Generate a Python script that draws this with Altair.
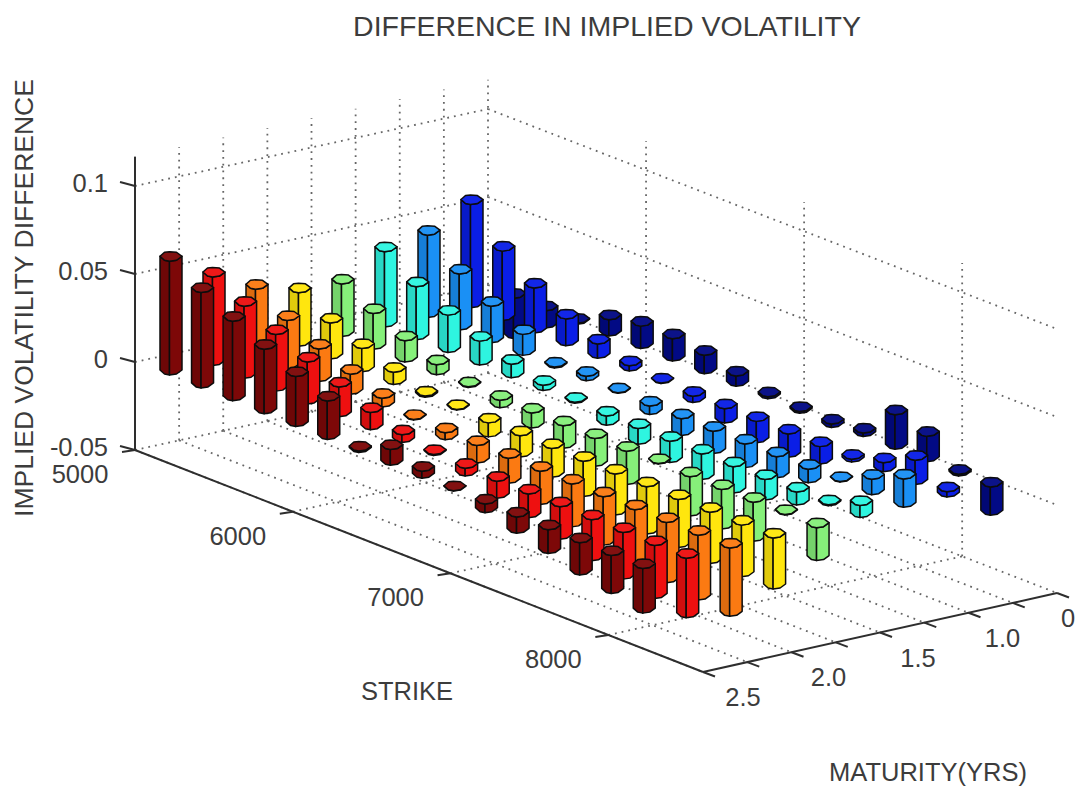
import altair as alt
import pandas as pd

# Implied-volatility differences, one list per maturity row (front to back), 16 strikes each
ROW_0 = [.0650,.0545,.0455,.0368,.0286,.0220,.0008,.0090,.0040,.0002,-.0050,-.0094,-.0136,-.0184,-.0216,-.0255]
ROW_1 = [.0505,.0412,.0323,.0240,.0170,.0098,.0044,.0005,-.0044,-.0098,-.0136,-.0185,-.0235,-.0266,-.0303,-.0340]
ROW_2 = [.0380,.0275,.0185,.0115,.0050,.0003,-.0040,-.0100,-.0142,-.0190,-.0245,-.0276,-.0308,-.0345,-.0370,-.0390]
ROW_3 = [.0305,.0205,.0133,.0070,.0008,.0004,-.0080,-.0122,-.0165,-.0202,-.0234,-.0270,-.0274,-.0293,-.0295,-.0292]
ROW_4 = [.0300,.0205,.0122,.0057,.0004,-.0042,-.0085,-.0128,-.0158,-.0190,.0003,-.0224,-.0226,-.0223,.0003,-.0188]
ROW_5 = [.0430,.0302,.0213,.0137,.0078,.0030,.0005,-.0053,-.0090,-.0121,-.0146,-.0150,-.0118,-.0074,-.0006,.0069]
ROW_6 = [.0470,.0320,.0208,.0120,.0006,.0025,.0003,-.0048,-.0096,-.0127,-.0135,-.0120,-.0077,.0003,.0088,.0162]
ROW_7 = [.0590,.0396,.0257,.0153,.0082,.0030,.0003,-.0036,-.0082,-.0122,-.0133,-.0099,-.0016,.0052,.0139,.0030]
ROW_8 = [-.0230,-.0099,-.0005,.0093,.0128,.0128,.0105,.0059,.0012,-.0010,-.0020,.0020,.0196,.0145,-.0010,-.0162]
ROWS = [ROW_0, ROW_1, ROW_2, ROW_3, ROW_4, ROW_5, ROW_6, ROW_7, ROW_8]
ROW_COLORS = ["#7d0808", "#ee1010", "#fb7a12", "#ffe60e", "#86f07a", "#2ef5e0", "#1a90f5", "#0a1ee6", "#020a85"]

STRIKE_TICKS = [5000, 6000, 7000, 8000]
Z_TICKS = [0.1, 0.05, 0.0, -0.05]
Z_LABELS = ["0.1", "0.05", "0", "-0.05"]
MATURITY_LABELS = ["2.5", "2.0", "1.5", "1.0", "0"]
MATURITY_LABEL_ROWS = [0, 2, 4, 6, 8]
TITLE = "DIFFERENCE IN IMPLIED VOLATILITY"
TEXT = "#3c3c3c"
Z_TOP = 0.1166


def frame(strike, k, z):
    """Project the axis box: strike, maturity-grid index k (0 front .. 8 back), value."""
    u = (strike - 5000) / 3600
    v = k / 8
    x = (1-u)*(1-v)*135 + u*(1-v)*703 + (1-u)*v*488 + u*v*1057
    y = (1-u)*(1-v)*450 + u*(1-v)*672 + (1-u)*v*373 + u*v*593
    return x, y - 1760 * (z + 0.05)


def bar_xy(j, r, z):
    """Project a bar: strike index j, maturity row r, value."""
    x = 171 + 31.55*j + 43*r + 0.03*j*r
    y = 370 + 12.9*j - 9.6*r - 0.04*j*r
    return x, y - 1750 * z


def shade(hex_color, f):
    c = [int(hex_color[i:i+2], 16) for i in (1, 3, 5)]
    if f <= 1:
        c = [int(v*f) for v in c]
    else:
        c = [int(v + (255-v)*(f-1)) for v in c]
    return "#%02x%02x%02x" % tuple(c)


# bar polygons, back to front
polys = []
LOWER = {-11: 0, -6.5: 4, -1.5: 5, 5.5: 4, 11: 0}
UPPER = {-11: 0, -6.5: -4, -1.5: -4.5, 5.5: -4, 11: 0}
pid = 0
for r in range(8, -1, -1):
    for j, val in enumerate(ROWS[r]):
        cx, top = bar_xy(j, r, max(val, 0))
        _, bot = bar_xy(j, r, min(val, 0))
        base = ROW_COLORS[r]
        for xs, col in (([-11, -6.5, -1.5], shade(base, 0.88)), ([-1.5, 5.5, 11], base)):
            pid += 1
            for dx in xs:
                polys.append(dict(id=pid, c=col, x=cx+dx, y=top+LOWER[dx], y2=bot+LOWER[dx]))
        pid += 1
        for dx in [-11, -6.5, -1.5, 5.5, 11]:
            polys.append(dict(id=pid, c=shade(base, 1.04), x=cx+dx, y=top+UPPER[dx], y2=top+LOWER[dx]))

# axis box lines
dotted, solid = [], []


def seg(store, a, b):
    store.append(dict(x=a[0], y=a[1], x2=b[0], y2=b[1]))


for z in Z_TICKS[:3]:
    seg(dotted, frame(5000, 0, z), frame(5000, 8, z))
    seg(dotted, frame(5000, 8, z), frame(8600, 8, z))
for k in range(0, 9):
    seg(dotted, frame(5000, k, -0.05), frame(8600, k, -0.05))
    seg(dotted, frame(5000, k, -0.05), frame(5000, k, Z_TOP))
for s in [5000] + STRIKE_TICKS[1:]:
    seg(dotted, frame(s, 0, -0.05), frame(s, 8, -0.05))
    if s > 5000:
        seg(dotted, frame(s, 8, -0.05), frame(s, 8, Z_TOP))

seg(solid, frame(5000, 0, -0.05), frame(5000, 0, Z_TOP))
seg(solid, frame(5000, 0, -0.05), frame(8600, 0, -0.05))
seg(solid, frame(8600, 0, -0.05), frame(8600, 8, -0.05))
for s in STRIKE_TICKS:
    a = frame(s, 0, -0.05)
    seg(solid, a, (a[0]-13, a[1]+2))
for k in range(9):
    a = frame(8600, k, -0.05)
    seg(solid, a, (a[0]+12, a[1]+4.5))
for z in Z_TICKS:
    a = frame(5000, 0, z)
    seg(solid, a, (a[0]-15, a[1]-4))

# texts
right_labels = pd.DataFrame([
    dict(x=108, y=frame(5000, 0, z)[1]-2, t=t) for z, t in zip(Z_TICKS, Z_LABELS)
])

center = []
for s in STRIKE_TICKS:
    a = frame(s, 0, -0.05)
    center.append(dict(x=a[0]-55, y=a[1]+25, t=str(s)))
for k, t, dx in zip(MATURITY_LABEL_ROWS, MATURITY_LABELS, [40, 37, 38, 34, 11]):
    a = frame(8600, k, -0.05)
    center.append(dict(x=a[0]+dx, y=a[1]+26, t=t))
center.append(dict(x=407, y=692, t="STRIKE"))
center.append(dict(x=928, y=773, t="MATURITY(YRS)"))
center = pd.DataFrame(center)
title_df = pd.DataFrame([dict(x=607, y=27, t=TITLE)])
ylab = pd.DataFrame([dict(x=25, y=298, t="IMPLIED VOLATILITY DIFFERENCE")])

W, H = 1068, 780
xs = alt.Scale(domain=[8, 8+W], nice=False, zero=False)
ys = alt.Scale(domain=[8+H, 8], nice=False, zero=False)
X = alt.X("x:Q", scale=xs, axis=None)
Y = alt.Y("y:Q", scale=ys, axis=None, stack=None)


def rules(rows, **kw):
    return alt.Chart(pd.DataFrame(rows)).mark_rule(**kw).encode(
        x=X, y=Y, x2="x2:Q", y2="y2:Q")


grid = rules(dotted, color="#666666", strokeWidth=1.8, strokeDash=[1.8, 5])
axes = rules(solid, color="#2e2e2e", strokeWidth=2)
bars = alt.Chart(pd.DataFrame(polys)).mark_area(
    stroke="#0c0c0c", strokeWidth=1.5, strokeJoin="round", opacity=1
).encode(
    x=X, y=Y, y2="y2:Q",
    detail="id:N",
    fill=alt.Fill("c:N", scale=None),
)


def font(size):
    return dict(font="Liberation Sans", fontSize=size, color=TEXT, baseline="middle")


t1 = alt.Chart(right_labels).mark_text(align="right", **font(25.5)).encode(x=X, y=Y, text="t:N")
t2 = alt.Chart(center).mark_text(align="center", **font(25.5)).encode(x=X, y=Y, text="t:N")
t3 = alt.Chart(ylab).mark_text(align="center", angle=270, **font(26.5)).encode(x=X, y=Y, text="t:N")
t4 = alt.Chart(title_df).mark_text(align="center", **font(28.5)).encode(x=X, y=Y, text="t:N")

chart = alt.layer(grid, bars, axes, t1, t2, t3, t4).properties(
    width=W, height=H, padding=0,
    autosize=alt.AutoSizeParams(type="none"), background="white",
).configure_view(stroke=None)

chart.save("out.html", embed_options={"renderer": "svg", "actions": False})
